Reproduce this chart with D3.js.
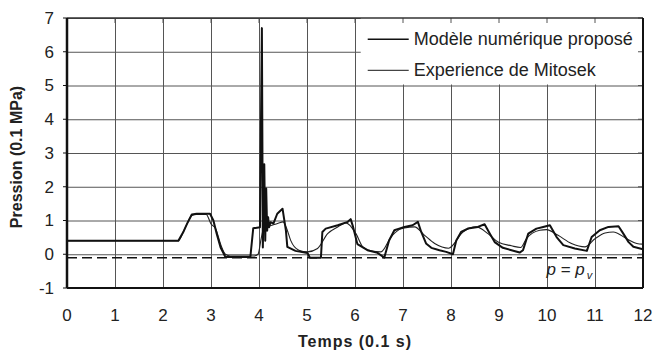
<!DOCTYPE html>
<html>
<head>
<meta charset="utf-8">
<script src="https://cdn.jsdelivr.net/npm/d3@7"></script>
<style>
  html, body { margin: 0; padding: 0; background: #fff; }
  svg { display: block; font-family: "Liberation Sans", Arial, sans-serif; }
</style>
</head>
<body>
<svg id="chart" width="655" height="354"></svg>
<script>
// Time axis (0.1 s) and pressure (0.1 MPa).
const modelTime = [0, 2.32, 2.42, 2.5, 2.6, 2.7, 2.98, 3.05, 3.12, 3.2, 3.3, 3.82, 3.88, 4.02, 4.06, 4.08, 4.11, 4.13, 4.15, 4.17, 4.19, 4.21, 4.24, 4.3, 4.38, 4.49, 4.56, 4.59, 4.76, 5.01, 5.06, 5.29, 5.32, 5.39, 5.64, 5.85, 5.91, 5.96, 6.05, 6.26, 6.47, 6.61, 6.71, 6.82, 6.92, 7.03, 7.2, 7.31, 7.38, 7.48, 7.59, 7.76, 7.9, 8.04, 8.11, 8.21, 8.35, 8.56, 8.7, 8.81, 8.91, 9.08, 9.26, 9.43, 9.5, 9.61, 9.78, 9.92, 10.06, 10.2, 10.34, 10.58, 10.83, 10.93, 11.1, 11.28, 11.49, 11.59, 11.7, 11.8, 12];
const modelPressure = [0.4, 0.4, 0.65, 0.9, 1.18, 1.2, 1.2, 1.0, 0.6, 0.2, -0.08, -0.08, 0.77, 0.8, 6.7, 0.2, 2.67, 0.4, 1.95, 0.7, 1.1, 0.8, 0.95, 0.91, 1.2, 1.35, 0.71, 0.22, 0.1, 0.04, -0.1, -0.1, 0.66, 0.76, 0.86, 0.96, 1.04, 0.81, 0.3, 0.12, 0.04, -0.1, 0.41, 0.71, 0.76, 0.81, 0.86, 0.96, 0.66, 0.32, 0.19, 0.12, 0.07, 0.0, 0.41, 0.66, 0.76, 0.81, 0.89, 0.61, 0.36, 0.19, 0.12, 0.05, 0.12, 0.61, 0.76, 0.81, 0.86, 0.51, 0.27, 0.17, 0.1, 0.51, 0.71, 0.81, 0.83, 0.61, 0.36, 0.22, 0.15];

const expTime = [0, 2.32, 2.42, 2.5, 2.6, 2.7, 2.9, 3.0, 3.1, 3.2, 3.3, 3.4, 3.9, 3.98, 4.05, 4.1, 4.25, 4.4, 4.5, 4.58, 4.66, 4.83, 5.01, 5.22, 5.43, 5.64, 5.81, 6.02, 6.16, 6.33, 6.54, 6.75, 6.92, 7.03, 7.24, 7.45, 7.66, 7.95, 8.25, 8.53, 8.77, 8.98, 9.26, 9.45, 9.57, 9.85, 9.99, 10.23, 10.51, 10.79, 11.0, 11.21, 11.38, 11.66, 11.87, 12];
const expPressure = [0.4, 0.4, 0.65, 0.9, 1.15, 1.18, 1.18, 0.9, 0.75, 0.3, 0.0, -0.05, -0.05, 0.0, 0.5, 0.78, 0.85, 0.92, 0.96, 0.75, 0.41, 0.12, 0.07, 0.17, 0.61, 0.81, 0.93, 0.61, 0.22, 0.1, 0.07, 0.51, 0.73, 0.78, 0.81, 0.56, 0.32, 0.18, 0.66, 0.81, 0.61, 0.36, 0.25, 0.2, 0.46, 0.71, 0.73, 0.56, 0.32, 0.22, 0.46, 0.63, 0.66, 0.46, 0.32, 0.3];

const xTicks = [0, 1, 2, 3, 4, 5, 6, 7, 8, 9, 10, 11, 12];
const yTicks = [-1, 0, 1, 2, 3, 4, 5, 6, 7];
const vapourPressure = -0.1;
const legendLabels = ['Modèle numérique proposé', 'Experience de Mitosek'];

const width = 655, height = 354;
const margin = { top: 18, right: 12, bottom: 66, left: 67 };
const innerWidth = width - margin.left - margin.right;
const innerHeight = height - margin.top - margin.bottom;
const FONT = '"Liberation Sans", Arial, sans-serif';

const svg = d3.select('#chart');
const g = svg.append('g').attr('transform', `translate(${margin.left},${margin.top})`);

const x = d3.scaleLinear().domain([0, 12]).range([0, innerWidth]);
const y = d3.scaleLinear().domain([-1, 7]).range([innerHeight, 0]);

// Grid
g.append('g')
  .call(d3.axisBottom(x).tickValues(xTicks).tickSize(innerHeight).tickFormat(() => ''))
  .call((grid) => {
    grid.select('.domain').remove();
    grid.selectAll('.tick text').remove();
    grid.selectAll('.tick line').attr('stroke', '#555').attr('stroke-width', 1);
  });
g.append('g')
  .call(d3.axisLeft(y).tickValues(yTicks).tickSize(-innerWidth).tickFormat(() => ''))
  .call((grid) => {
    grid.select('.domain').remove();
    grid.selectAll('.tick text').remove();
    grid.selectAll('.tick line').attr('stroke', '#555').attr('stroke-width', 1);
  });

// Legend box hides the grid underneath
const legendBox = { x0: 8 - 90 / 47.85, y0: 7, y1: 5.03 };
g.append('rect')
  .attr('x', x(legendBox.x0))
  .attr('y', y(legendBox.y0))
  .attr('width', innerWidth - x(legendBox.x0))
  .attr('height', y(legendBox.y1) - y(legendBox.y0))
  .attr('fill', '#fff');

// Small inward ticks on top and right edges
xTicks.forEach((t) => {
  g.append('line').attr('x1', x(t)).attr('x2', x(t)).attr('y1', 0).attr('y2', 5)
    .attr('stroke', '#555');
});
yTicks.forEach((t) => {
  g.append('line').attr('x1', innerWidth - 5).attr('x2', innerWidth).attr('y1', y(t)).attr('y2', y(t))
    .attr('stroke', '#555');
});

// Vapour pressure dashed line
g.append('line')
  .attr('x1', 0).attr('x2', innerWidth)
  .attr('y1', y(vapourPressure)).attr('y2', y(vapourPressure))
  .attr('stroke', '#111').attr('stroke-width', 1.5)
  .attr('stroke-dasharray', '10,5');

const clip = svg.append('defs').append('clipPath').attr('id', 'plot-clip');
clip.append('rect').attr('width', innerWidth).attr('height', innerHeight);

const expPoints = expTime.map((t, i) => [t, expPressure[i]]);
const modelPoints = modelTime.map((t, i) => [t, modelPressure[i]]);

g.append('path')
  .datum(expPoints)
  .attr('clip-path', 'url(#plot-clip)')
  .attr('fill', 'none')
  .attr('stroke', '#222')
  .attr('stroke-width', 1.1)
  .attr('d', d3.line().x((d) => x(d[0])).y((d) => y(d[1])).curve(d3.curveMonotoneX));

g.append('path')
  .datum(modelPoints)
  .attr('clip-path', 'url(#plot-clip)')
  .attr('fill', 'none')
  .attr('stroke', '#111')
  .attr('stroke-width', 2)
  .attr('stroke-linejoin', 'round')
  .attr('d', d3.line().x((d) => x(d[0])).y((d) => y(d[1])));

// Frame
g.append('line').attr('x1', 0).attr('x2', innerWidth).attr('y1', 0).attr('y2', 0)
  .attr('stroke', '#333').attr('stroke-width', 1.5);
g.append('line').attr('x1', innerWidth).attr('x2', innerWidth).attr('y1', 0).attr('y2', innerHeight)
  .attr('stroke', '#111').attr('stroke-width', 2);
g.append('line').attr('x1', 0).attr('x2', innerWidth).attr('y1', innerHeight).attr('y2', innerHeight)
  .attr('stroke', '#111').attr('stroke-width', 2);
g.append('line').attr('x1', 0).attr('x2', 0).attr('y1', 0).attr('y2', innerHeight)
  .attr('stroke', '#111').attr('stroke-width', 2.5);

// Y axis ticks and labels
yTicks.forEach((t) => {
  g.append('line').attr('x1', -4).attr('x2', 0).attr('y1', y(t)).attr('y2', y(t)).attr('stroke', '#111');
  g.append('text')
    .attr('x', -13)
    .attr('y', y(t))
    .attr('dy', '0.35em')
    .attr('text-anchor', 'end')
    .attr('font-family', FONT)
    .attr('font-size', '17px')
    .attr('fill', '#222')
    .text(String(t));
});

// X axis labels
xTicks.forEach((t) => {
  g.append('text')
    .attr('x', x(t))
    .attr('y', innerHeight + 33)
    .attr('text-anchor', 'middle')
    .attr('font-family', FONT)
    .attr('font-size', '17px')
    .attr('fill', '#222')
    .text(String(t));
});

// Axis titles
svg.append('text')
  .attr('x', margin.left + innerWidth / 2)
  .attr('y', 347)
  .attr('text-anchor', 'middle')
  .attr('font-family', FONT)
  .attr('font-size', '16px')
  .attr('font-weight', 'bold')
  .attr('letter-spacing', '1px')
  .attr('fill', '#222')
  .text('Temps (0.1 s)');

svg.append('text')
  .attr('transform', `translate(22,${margin.top + innerHeight / 2 + 4}) rotate(-90)`)
  .attr('text-anchor', 'middle')
  .attr('font-family', FONT)
  .attr('font-size', '16px')
  .attr('font-weight', 'bold')
  .attr('fill', '#222')
  .text('Pression (0.1 MPa)');

// p = p_v annotation
const pv = g.append('text')
  .attr('x', x(10.05) - 3)
  .attr('y', y(-0.62))
  .attr('font-family', FONT)
  .attr('font-size', '17px')
  .attr('font-style', 'italic')
  .attr('fill', '#222');
pv.append('tspan').text('p = p');
pv.append('tspan').attr('font-size', '11px').attr('dy', 4).attr('dx', 2).text('v');

// Legend
const legendRows = [
  { label: legendLabels[0], stroke: '#111', width: 1.6, yv: 6.37 },
  { label: legendLabels[1], stroke: '#444', width: 1.2, yv: 5.45 },
];
legendRows.forEach((r) => {
  const ly = y(r.yv);
  g.append('line')
    .attr('x1', x(legendBox.x0) + 7).attr('x2', x(legendBox.x0) + 48)
    .attr('y1', ly).attr('y2', ly)
    .attr('stroke', r.stroke).attr('stroke-width', r.width);
  g.append('text')
    .attr('x', x(legendBox.x0) + 53)
    .attr('y', ly + 6)
    .attr('font-family', FONT)
    .attr('font-size', '18px')
    .attr('fill', '#222')
    .text(r.label);
});
</script>
</body>
</html>
